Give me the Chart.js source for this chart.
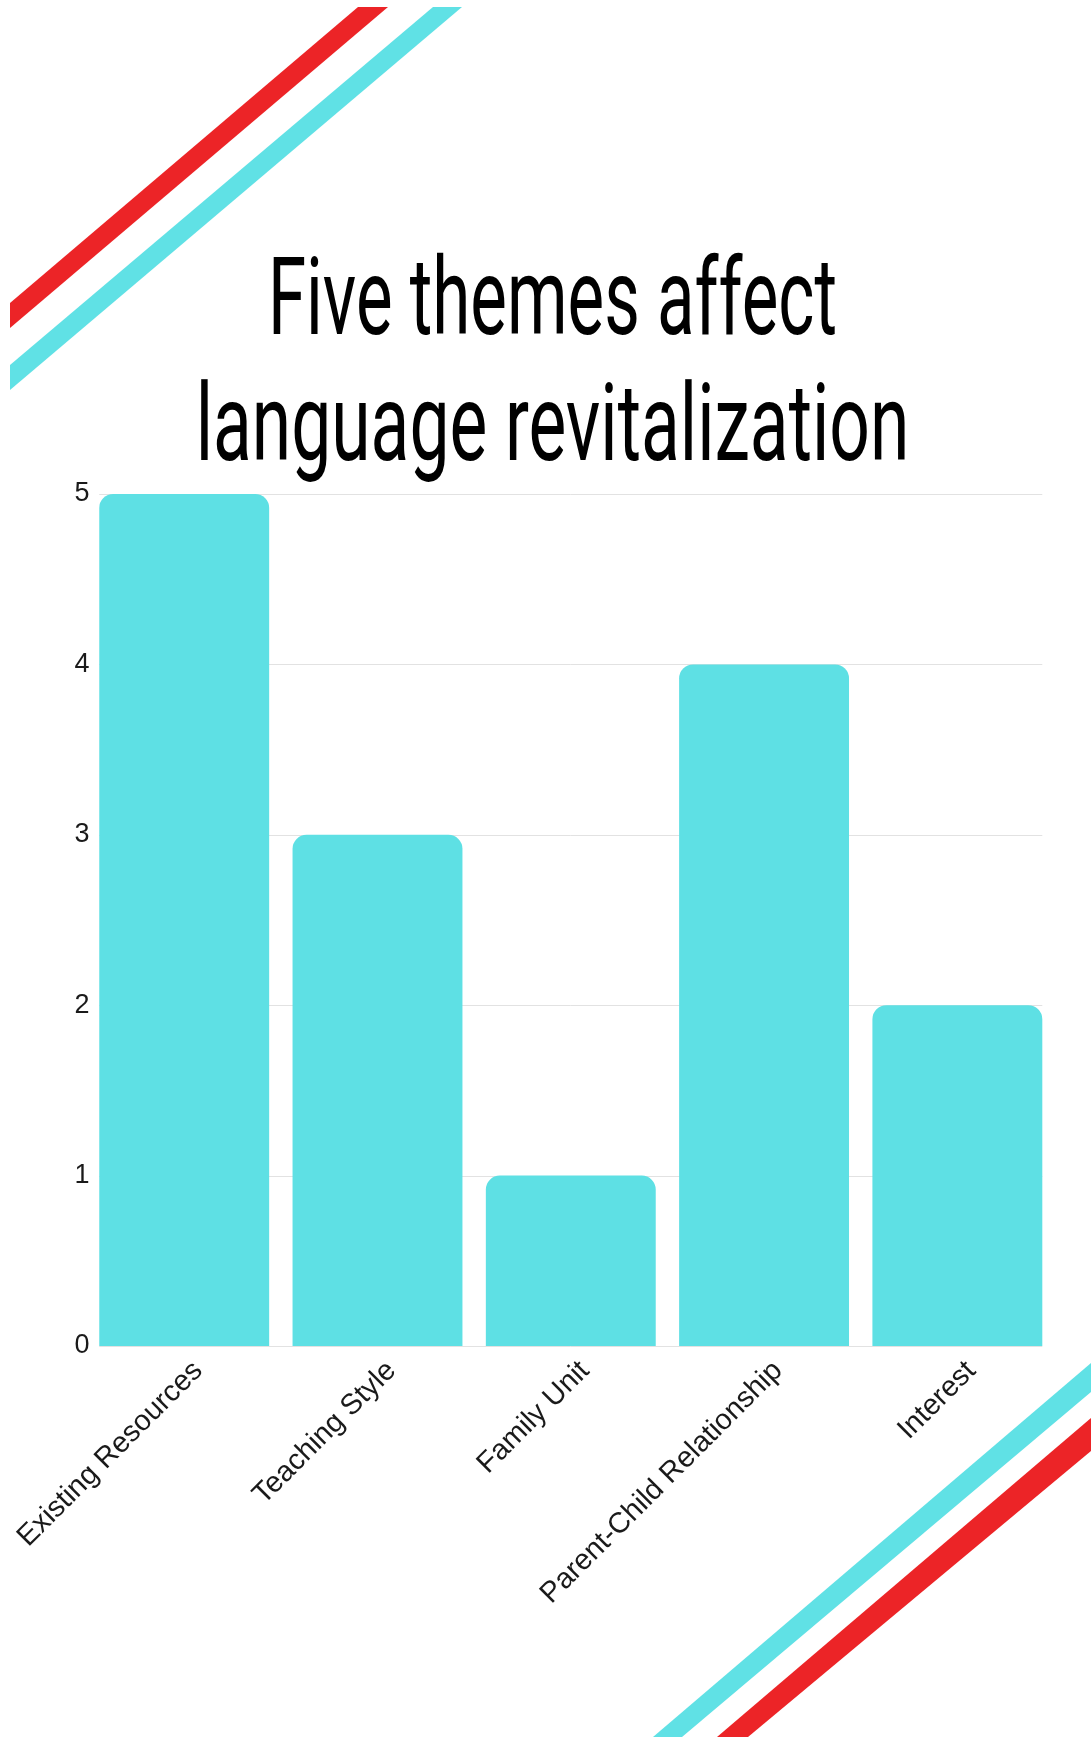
<!DOCTYPE html>
<html lang="en">
<head>
<meta charset="utf-8">
<title>Five themes affect language revitalization</title>
<script src="https://cdn.jsdelivr.net/npm/chart.js@4.4.1/dist/chart.umd.min.js"></script>
<style>
    html, body { margin: 0; padding: 0; background: #ffffff; }
    #wrap { width: 1091px; height: 1737px; position: relative; }
</style>
</head>
<body>
<div id="wrap">
    <canvas id="themeChart" width="1091" height="1737"></canvas>
</div>
<script>
const titleLines = ["Five themes affect", "language revitalization"];
const categories = [
    "Existing Resources",
    "Teaching Style",
    "Family Unit",
    "Parent-Child Relationship",
    "Interest",
];
const themeCounts = [5, 3, 1, 4, 2];
const yTicks = [0, 1, 2, 3, 4, 5];

const COLORS = {
    bar: "#5ee0e4",
    cyan: "#60e1e5",
    red: "#ec2427",
    grid: "#e2e2e2",
    text: "#1a1a1a",
};

// decorative diagonal stripes in the corners
const stripes = [
    { color: COLORS.red, pts: [[358, 7], [388, 7], [10, 328], [10, 303]] },
    { color: COLORS.cyan, pts: [[433, 7], [462, 7], [10, 390], [10, 365]] },
    { color: COLORS.cyan, pts: [[1091, 1363], [1091, 1392], [682, 1737], [653, 1737]] },
    { color: COLORS.red, pts: [[1091, 1418], [1091, 1451], [748, 1737], [717, 1737]] },
];

const backgroundPlugin = {
    id: "background",
    beforeDraw(chart) {
        const ctx = chart.ctx;
        ctx.save();
        ctx.fillStyle = "#ffffff";
        ctx.fillRect(0, 0, chart.width, chart.height);
        stripes.forEach((s) => {
            ctx.beginPath();
            s.pts.forEach((p, i) => (i ? ctx.lineTo(p[0], p[1]) : ctx.moveTo(p[0], p[1])));
            ctx.closePath();
            ctx.fillStyle = s.color;
            ctx.fill();
        });
        ctx.restore();
    },
};

// big condensed title, each line squeezed to its width
const titlePlugin = {
    id: "bigTitle",
    afterDraw(chart) {
        const ctx = chart.ctx;
        const lines = [
            { text: titleLines[0], left: 273, right: 835, base: 334 },
            { text: titleLines[1], left: 201, right: 905, base: 460 },
        ];
        ctx.save();
        ctx.fillStyle = "#000000";
        ctx.font = "400 108px Roboto, 'DejaVu Sans', sans-serif";
        ctx.textBaseline = "alphabetic";
        ctx.textAlign = "left";
        lines.forEach((l) => {
            const m = ctx.measureText(l.text);
            const w = m.actualBoundingBoxRight + m.actualBoundingBoxLeft;
            const sx = (l.right - l.left) / w;
            ctx.save();
            ctx.translate(l.left, l.base);
            ctx.scale(sx, 1);
            ctx.fillText(l.text, m.actualBoundingBoxLeft, 0);
            ctx.restore();
        });
        ctx.restore();
    },
};

// grid lines only span the bars, like the reference
const gridPlugin = {
    id: "barGrid",
    beforeDatasetsDraw(chart) {
        const ctx = chart.ctx;
        const y = chart.scales.y;
        const meta = chart.getDatasetMeta(0);
        const first = meta.data[0];
        const last = meta.data[meta.data.length - 1];
        const x0 = first.x - first.width / 2;
        const x1 = last.x + last.width / 2;
        ctx.save();
        ctx.strokeStyle = COLORS.grid;
        ctx.lineWidth = 1;
        yTicks.forEach((v) => {
            const py = Math.round(y.getPixelForValue(v)) + 0.5;
            ctx.beginPath();
            ctx.moveTo(x0, py);
            ctx.lineTo(x1, py);
            ctx.stroke();
        });
        ctx.restore();
    },
};

function createChart() {
    const ctx = document.getElementById("themeChart");

    return new Chart(ctx, {
        type: "bar",
        data: {
            labels: categories,
            datasets: [
                {
                    data: themeCounts,
                    backgroundColor: COLORS.bar,
                    borderWidth: 0,
                    borderRadius: 14,
                    borderSkipped: "start",
                    categoryPercentage: 1,
                    barPercentage: 0.879,
                },
            ],
        },
        options: {
            responsive: false,
            animation: false,
            devicePixelRatio: 1,
            layout: {
                padding: { top: 494, right: 37, bottom: 0, left: 0 },
            },
            plugins: {
                legend: { display: false },
                tooltip: { enabled: false },
                title: { display: false },
            },
            scales: {
                x: {
                    grid: { display: false },
                    border: { display: false },
                    ticks: {
                        color: COLORS.text,
                        font: { family: "'Liberation Sans', Arial, sans-serif", size: 29 },
                        minRotation: 45,
                        maxRotation: 45,
                        padding: 0,
                        labelOffset: 14,
                        autoSkip: false,
                    },
                    afterFit(scale) {
                        scale.height = 391;
                    },
                },
                y: {
                    min: 0,
                    max: 5,
                    grid: { display: false },
                    border: { display: false },
                    ticks: {
                        stepSize: 1,
                        color: COLORS.text,
                        font: { family: "'Liberation Sans', Arial, sans-serif", size: 27 },
                        mirror: true,
                        padding: -13,
                    },
                    afterFit(scale) {
                        scale.width = 87;
                    },
                },
            },
        },
        plugins: [backgroundPlugin, gridPlugin, titlePlugin],
    });
}

createChart();
</script>
</body>
</html>
